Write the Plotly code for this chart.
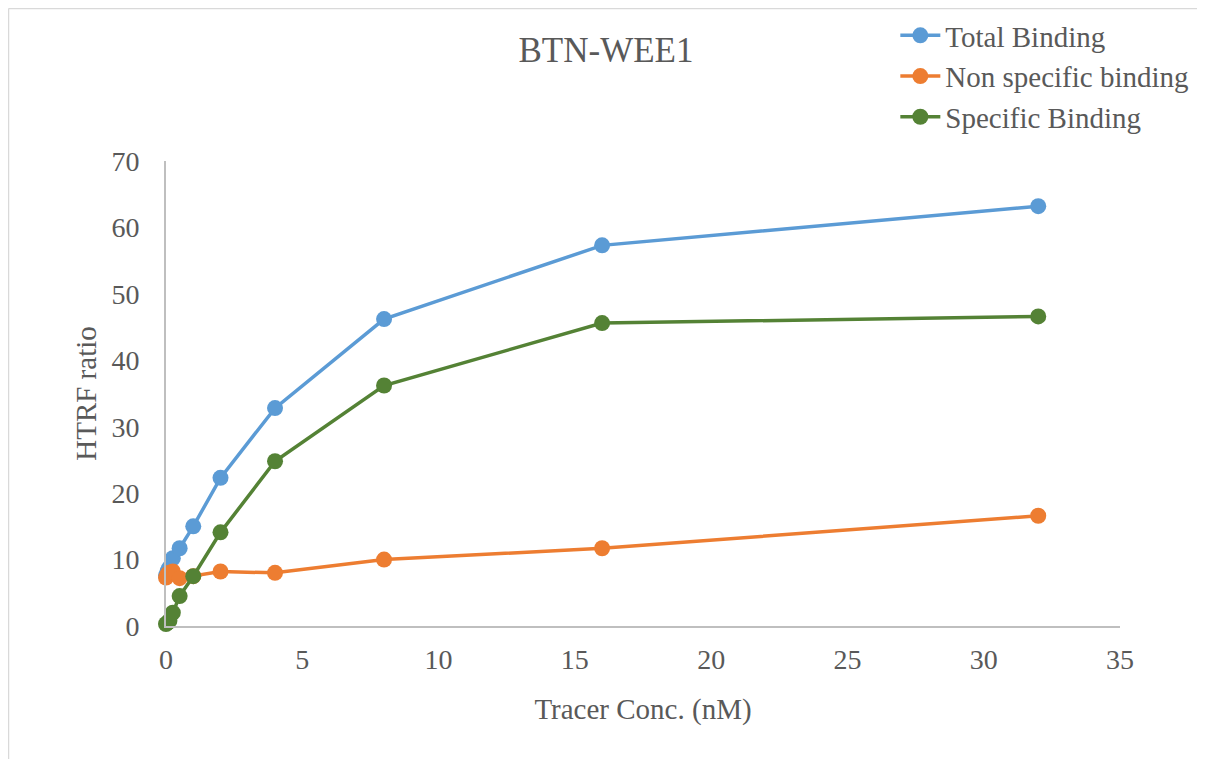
import plotly.graph_objects as go

conc = [0, 0.0625, 0.125, 0.25, 0.5, 1, 2, 4, 8, 16, 32]
total_binding = [7.6, 8.3, 8.8, 10.2, 11.7, 15.0, 22.3, 32.8, 46.2, 57.3, 63.2]
nonspecific_binding = [7.3, 7.8, 8.0, 8.2, 7.2, 7.5, 8.2, 8.0, 10.0, 11.7, 16.6]
specific_binding = [0.3, 0.5, 0.8, 2.0, 4.5, 7.5, 14.1, 24.8, 36.2, 45.6, 46.6]

series = [
    ("Total Binding", total_binding, "#5B9BD5"),
    ("Non specific binding", nonspecific_binding, "#ED7D31"),
    ("Specific Binding", specific_binding, "#548235"),
]

FONT = "Liberation Serif"
TXT = "#595959"

L, T = 158, 153
W, H = 1197, 751
R = W - 1112
B = H - 618
PH = H - T - B
PW = W - L - R

fig = go.Figure()
for name, vals, col in series:
    fig.add_trace(go.Scatter(
        x=conc, y=vals, name=name, mode="lines+markers",
        line=dict(color=col, width=3.5),
        marker=dict(color=col, size=16),
        cliponaxis=False,
    ))

fig.update_layout(
    width=W, height=H,
    margin=dict(l=L, r=R, t=T, b=B, autoexpand=False),
    paper_bgcolor="white", plot_bgcolor="white",
    font=dict(family=FONT, color=TXT, size=28),
    title=dict(text="BTN-WEE1", x=598/W, xanchor="center", y=1 - 42/H, yanchor="middle",
               font=dict(size=35, color=TXT, family=FONT)),
    legend=dict(x=0.7645, y=1 + (T - 2)/PH, xanchor="left", yanchor="top",
                bgcolor="rgba(0,0,0,0)", font=dict(size=29, color=TXT, family=FONT),
                tracegroupgap=0, itemwidth=40),
    showlegend=True,
)
fig.update_xaxes(range=[0, 35], dtick=5, tick0=0, showgrid=False, zeroline=False,
                 showline=True, linecolor="#BFBFBF", linewidth=2,
                 ticks="", ticklabelstandoff=7,
                 tickfont=dict(size=28, color=TXT, family=FONT),
                 title=dict(text="Tracer Conc. (nM)", standoff=25,
                            font=dict(size=29, color=TXT, family=FONT)))
fig.update_yaxes(range=[0, 70], dtick=10, tick0=0, showgrid=False, zeroline=False,
                 showline=True, linecolor="#BFBFBF", linewidth=2,
                 ticks="", ticklabelstandoff=19,
                 tickfont=dict(size=28, color=TXT, family=FONT),
                 title=dict(text="HTRF ratio", standoff=6,
                            font=dict(size=29, color=TXT, family=FONT)))

# chart area border (top and left edges visible)
top_y = 1 + (T - 0.5) / PH
left_x = -(L - 0.5) / PW
fig.add_shape(type="line", xref="paper", yref="paper",
              x0=left_x, x1=1 + (R - 1) / PW, y0=top_y, y1=top_y,
              line=dict(color="#D9D9D9", width=1.5))
fig.add_shape(type="line", xref="paper", yref="paper",
              x0=left_x, x1=left_x, y0=top_y, y1=-B / PH,
              line=dict(color="#D9D9D9", width=1.5))

fig.write_html("out.html")
